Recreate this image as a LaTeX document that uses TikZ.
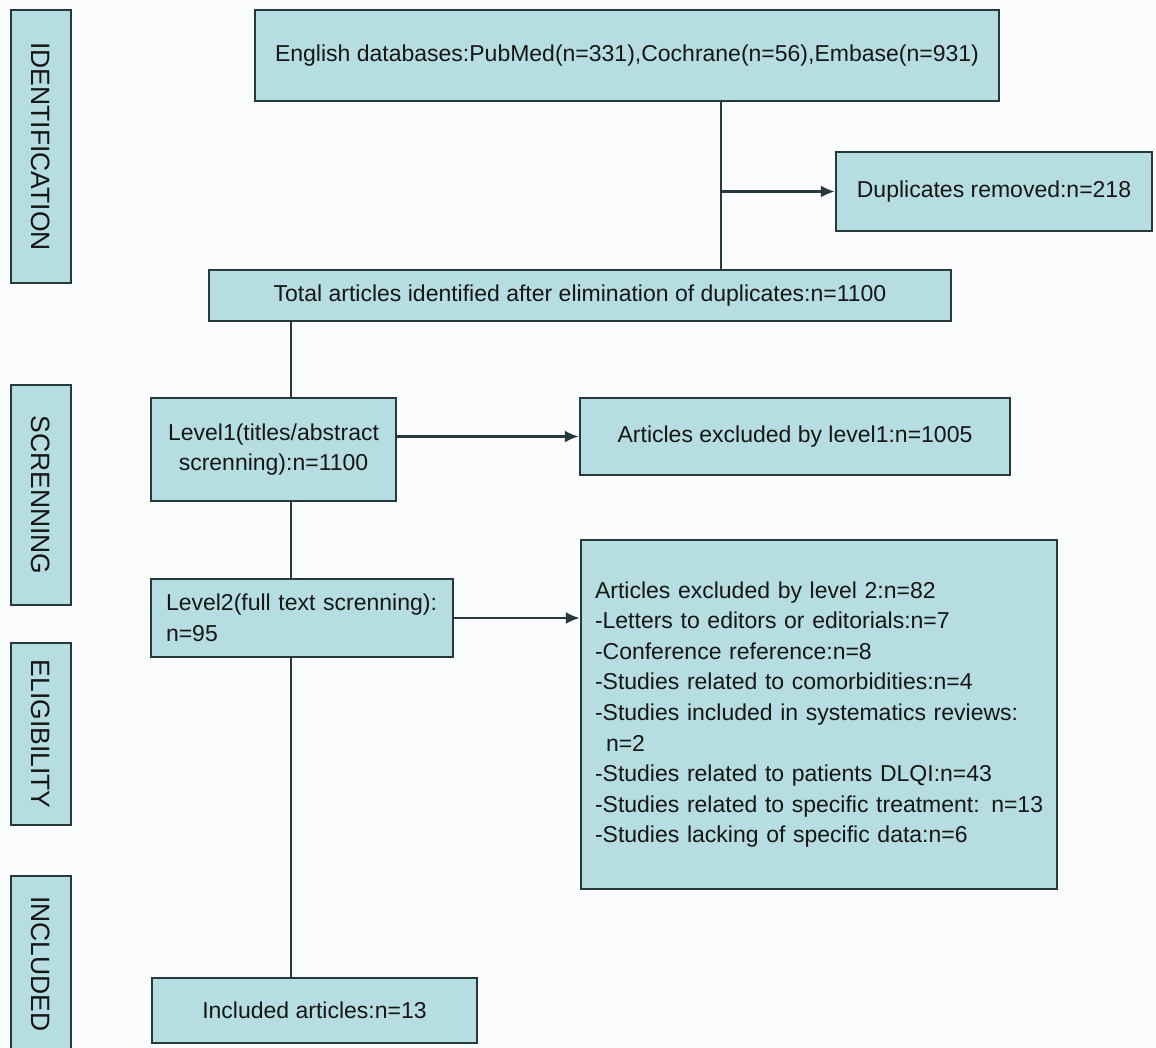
\documentclass[tikz,border=0pt]{standalone}
\usepackage{fontspec}
\setmainfont{Liberation Sans}
\usetikzlibrary{arrows.meta}
\definecolor{boxfill}{HTML}{B6DDE1}
\definecolor{boxline}{HTML}{26393B}
\definecolor{bgc}{HTML}{FBFCFE}
\definecolor{txt}{HTML}{161616}
\begin{document}
\begin{tikzpicture}[x=1pt,y=-1pt,
  box/.style={draw=boxline, line width=2.4pt, fill=boxfill, inner sep=0pt,
    font=\fontsize{23}{30.6}\selectfont, text=txt, align=center},
  stage/.style={box, rotate=-90, minimum height=60pt, font=\fontsize{26.5}{30}\selectfont},
  link/.style={draw=boxline, line width=2.4pt},
  arr/.style={link, -{Latex[length=14pt,width=12pt]}}]
\clip (0,0) rectangle (1156,1048);
\fill[bgc] (0,0) rectangle (1156,1048);
% stage labels
\node[stage, minimum width=273pt] (sid) at (41,146.5) {IDENTIFICATION};
\node[stage, minimum width=220pt] (ssc) at (41,495) {SCRENNING};
\node[stage, minimum width=182pt] (sel) at (41,734) {ELIGIBILITY};
\node[stage, minimum width=176pt] (sin) at (41,964) {INCLUDED};
% boxes
\node[box, minimum width=744pt, minimum height=91pt] (eng) at (627,55.5)
  {English databases:PubMed(n=331),Cochrane(n=56),Embase(n=931)};
\node[box, minimum width=316pt, minimum height=79pt] (dup) at (994,191.5)
  {Duplicates removed:n=218};
\node[box, minimum width=742pt, minimum height=51pt] (tot) at (580,295.5)
  {Total articles identified after elimination of duplicates:n=1100};
\node[box, minimum width=245pt, minimum height=103pt] (l1) at (273.5,449.5)
  {Level1(titles/abstract\\screnning):n=1100};
\node[box, minimum width=430pt, minimum height=77pt] (ex1) at (795,436.5)
  {Articles excluded by level1:n=1005};
\node[box, minimum height=78pt, text width=272pt, inner xsep=15pt, align=left] (l2) at (302,618)
  {Level2(full text screnning):\\n=95};
\node[box, minimum height=349pt, text width=448pt, inner xsep=14pt, align=left] (big) at (819,714.5)
  {Articles excluded by level 2:n=82\\
   -Letters to editors or editorials:n=7\\
   -Conference reference:n=8\\
   -Studies related to comorbidities:n=4\\
   -Studies included in systematics reviews:\\
   \hspace*{11pt}n=2\\
   -Studies related to patients DLQI:n=43\\
   \mbox{-Studies related to specific treatment: n=13}\\
   -Studies lacking of specific data:n=6};
\node[box, minimum width=325pt, minimum height=65pt] (inc) at (314.5,1010.5)
  {Included articles:n=13};
% connectors
\coordinate (j1) at (721,191.5);
\coordinate (cx) at (291,0);
\draw[link] (eng.south -| j1) -- (tot.north -| j1);
\draw[arr] (j1) -- (dup.west);
\draw[link] (tot.south -| cx) -- (l1.north -| cx);
\draw[arr] (l1.east |- ex1.west) -- (ex1.west);
\draw[link] (l1.south -| cx) -- (l2.north -| cx);
\draw[arr] (l2.east) -- (big.west |- l2.east);
\draw[link] (l2.south -| cx) -- (inc.north -| cx);
\end{tikzpicture}
\end{document}
